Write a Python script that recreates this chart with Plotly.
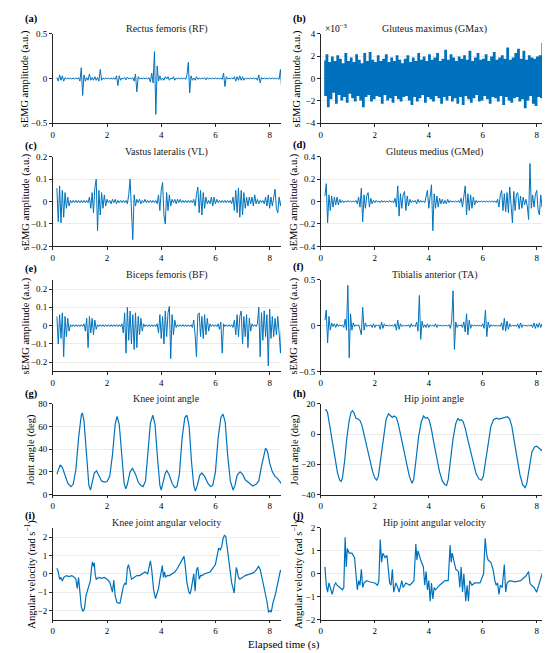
import numpy as np
import plotly.graph_objects as go

# sEMG signals, one sample every 0.05 s starting at 0.15 s (values in a.u.)
rf = [0.01, -0.03, 0.04, -0.02, 0.03, -0.03, 0.01, -0.005, 0.005, -0.005, 0.005, -0.005, 0.005, -0.005, 0.005, -0.005, 0.01, -0.03, 0.12, -0.19,
      0.04, -0.03, 0.01, -0.02, 0.05, -0.02, 0.01, -0.02, 0.02, -0.02, 0.01, -0.03, 0.10, -0.02, 0.005, -0.005, 0.005, -0.005, 0.005, -0.005,
      0.005, -0.005, 0.005, -0.01, 0.03, -0.08, 0.03, -0.02, 0.005, -0.005, 0.01, -0.015, 0.015, -0.005, 0.005, -0.005, 0.01, -0.03, 0.05, -0.15,
      0.02, -0.005, 0.005, -0.005, 0.005, -0.005, 0.005, -0.005, 0.01, -0.04, 0.06, -0.05, 0.30, -0.40, 0.14, -0.03, 0.03, -0.02, 0.005, -0.02,
      0.02, -0.005, 0.02, -0.02, 0.005, -0.005, 0.02, -0.02, 0.005, -0.005, 0.005, -0.005, 0.005, -0.005, 0.005, -0.01, 0.04, 0.18, -0.16, 0.03,
      -0.02, 0.005, -0.02, 0.02, -0.01, 0.005, -0.005, 0.005, -0.005, 0.01, -0.015, 0.01, -0.005, 0.005, -0.005, 0.005, -0.005, 0.005, -0.005, 0.005,
      -0.005, 0.005, -0.01, 0.06, -0.09, 0.02, -0.005, 0.005, -0.005, 0.005, -0.005, 0.02, -0.03, 0.02, -0.02, 0.03, -0.02, 0.02, -0.02, 0.005,
      -0.005, 0.005, -0.005, 0.005, -0.005, 0.005, -0.005, 0.005, -0.02, 0.04, -0.05, 0.01, -0.005, 0.005, -0.005, 0.005, -0.005, 0.005, -0.005, 0.005,
      -0.005, 0.005, -0.005, 0.005, -0.01, 0.10, -0.15]

# gluteus maximus, in units of 1e-3 a.u.
gmax = [1.6, -1.5, 2.1, -2.5, 1.4, -1.8, 1.9, -1.2, 1.5, -2.2, 2.0, -1.4, 1.7, -1.9, 1.3, -1.6, 2.2, -2.1, 1.5, -1.3,
        1.8, -1.7, 1.4, -2.0, 2.1, -1.5, 1.6, -1.9, 1.3, -2.5, 2.2, -1.6, 1.5, -1.4, 2.3, -2.0, 1.6, -1.8, 1.4, -1.5,
        2.0, -1.6, 1.5, -2.2, 1.7, -1.4, 2.1, -1.9, 1.4, -1.7, 1.8, -2.1, 1.5, -1.5, 2.0, -1.8, 1.6, -2.0, 1.3, -1.6,
        1.7, -1.5, 2.0, -1.9, 1.4, -2.3, 1.8, -1.6, 1.5, -2.0, 2.2, -1.7, 1.6, -1.4, 1.9, -2.1, 1.5, -1.6, 2.1, -1.8,
        1.6, -2.0, 1.8, -1.5, 2.2, -1.7, 1.5, -2.2, 1.7, -1.6, 2.5, -1.9, 1.6, -1.5, 2.1, -2.0, 1.8, -1.7, 1.5, -2.2,
        1.9, -1.6, 1.7, -2.3, 2.0, -1.5, 1.6, -1.8, 2.4, -2.1, 1.5, -1.7, 1.8, -1.4, 2.2, -2.0, 1.6, -1.9, 1.7, -1.5,
        2.1, -1.8, 1.5, -2.2, 1.9, -1.6, 2.3, -1.7, 1.6, -2.0, 1.8, -1.5, 2.0, -2.3, 1.7, -1.6, 2.7, -1.9, 1.6, -2.1,
        1.8, -1.7, 2.2, -1.6, 2.6, -2.0, 1.7, -1.8, 2.4, -2.6, 1.6, -1.9, 2.0, -1.5, 1.8, -2.2, 1.7, -2.4, 1.9, -1.6,
        2.0, -1.7, 3.1, -2.0, 1.6, -1.8, 1.4]

vl = [0.06, -0.09, 0.07, -0.095, 0.05, -0.07, 0.04, -0.03, 0.02, -0.02, 0.005, -0.005, 0.005, -0.005, 0.005, -0.005, 0.005, -0.005, 0.005, -0.005,
      0.005, -0.005, 0.005, -0.005, 0.02, -0.03, 0.04, -0.05, 0.06, 0.10, -0.13, 0.05, -0.06, 0.04, -0.03, 0.03, -0.02, 0.01, -0.005, 0.005,
      -0.01, 0.01, -0.005, 0.01, -0.01, 0.005, -0.005, 0.005, -0.005, 0.005, -0.005, 0.005, -0.01, 0.03, 0.10, -0.07, -0.17, 0.03, -0.02, 0.01,
      -0.005, 0.01, -0.01, 0.005, -0.005, 0.01, -0.005, 0.005, -0.005, 0.005, -0.005, 0.005, -0.005, 0.005, -0.01, 0.03, -0.04, 0.05, 0.085, -0.06,
      -0.10, 0.04, -0.04, 0.03, -0.02, 0.01, -0.005, 0.01, -0.01, 0.01, -0.005, 0.01, -0.005, 0.005, -0.005, 0.005, -0.005, 0.005, -0.005, 0.005,
      -0.005, 0.01, -0.02, 0.03, 0.065, -0.05, 0.05, -0.06, 0.04, -0.03, 0.02, -0.01, 0.005, -0.01, 0.02, -0.02, 0.02, -0.01, 0.01, -0.005,
      0.005, -0.005, 0.005, -0.005, 0.005, -0.005, 0.005, -0.005, 0.005, -0.01, 0.02, -0.04, 0.05, -0.05, 0.06, -0.07, 0.05, -0.06, 0.04, -0.03,
      0.02, -0.02, 0.02, -0.01, 0.02, -0.02, 0.03, -0.01, 0.01, -0.01, 0.005, -0.005, 0.005, -0.01, 0.02, -0.02, 0.03, -0.03, 0.02, -0.02,
      0.03, 0.055, -0.03, -0.05, 0.02, -0.02, 0.02]

gmed = [0.05, 0.16, -0.19, 0.06, -0.08, 0.05, -0.05, 0.04, -0.03, 0.04, -0.03, 0.02, -0.01, 0.01, -0.01, 0.005, -0.005, 0.01, -0.005, 0.005,
        -0.005, 0.005, -0.005, 0.01, -0.02, 0.04, -0.05, 0.12, -0.18, 0.06, -0.06, 0.05, 0.08, -0.05, 0.03, -0.02, 0.01, -0.01, 0.01, -0.005,
        0.005, -0.01, 0.01, -0.005, 0.005, -0.005, 0.005, -0.005, 0.01, -0.005, 0.005, -0.01, 0.03, -0.05, 0.14, -0.13, 0.07, -0.06, 0.06, 0.09,
        -0.08, 0.05, -0.04, 0.02, -0.01, 0.01, -0.005, 0.01, -0.02, 0.02, -0.01, 0.01, -0.005, 0.005, -0.01, 0.04, 0.10, -0.06, 0.06, 0.15,
        -0.26, 0.07, -0.06, 0.05, -0.05, 0.03, -0.02, 0.02, -0.02, 0.01, -0.02, 0.02, -0.01, 0.01, -0.005, 0.005, -0.005, 0.005, -0.005, 0.01,
        -0.01, 0.03, -0.05, 0.06, 0.14, -0.12, 0.07, -0.08, 0.06, -0.06, 0.04, -0.03, 0.01, -0.01, 0.005, -0.005, 0.005, -0.005, 0.005, -0.005,
        0.005, -0.005, 0.005, -0.005, 0.005, -0.005, 0.005, -0.01, 0.02, -0.05, 0.06, 0.10, -0.08, 0.07, -0.09, 0.08, -0.10, 0.13, -0.08, -0.19,
        0.09, -0.08, 0.07, 0.08, -0.07, 0.05, -0.06, 0.04, -0.03, 0.02, -0.04, -0.16, 0.34, -0.06, 0.06, -0.05, 0.06, 0.10, -0.07, -0.12,
        0.06, -0.05, 0.05, -0.06, 0.05, -0.04, 0.03]

bf = [0.05, -0.10, 0.06, -0.07, 0.07, -0.17, 0.05, -0.06, 0.04, -0.03, 0.005, -0.005, 0.005, -0.005, 0.005, -0.005, 0.005, -0.005, 0.005, -0.005,
      0.01, -0.03, 0.04, -0.12, 0.05, -0.04, 0.04, -0.05, 0.03, -0.02, 0.005, -0.005, 0.005, -0.005, 0.005, -0.005, 0.005, -0.005, 0.005, -0.005,
      0.005, -0.005, 0.005, -0.005, 0.005, -0.005, 0.005, -0.005, 0.01, -0.04, 0.07, -0.15, 0.10, -0.08, 0.08, -0.10, 0.06, -0.13, 0.07, -0.12,
      0.05, -0.05, 0.04, -0.03, 0.01, -0.005, 0.005, -0.005, 0.005, -0.005, 0.005, -0.005, 0.005, -0.005, 0.01, -0.04, 0.06, -0.07, 0.05, -0.10,
      0.08, -0.06, 0.07, 0.105, -0.18, 0.06, -0.05, 0.03, -0.01, 0.005, -0.005, 0.005, -0.005, 0.005, -0.005, 0.005, -0.005, 0.005, -0.005, 0.005,
      -0.01, 0.03, -0.05, -0.17, 0.06, 0.07, -0.06, 0.05, -0.07, 0.06, -0.05, 0.04, -0.03, 0.01, -0.005, 0.005, -0.005, 0.005, -0.005, 0.01,
      -0.02, 0.02, -0.15, 0.01, -0.005, 0.005, -0.005, 0.005, -0.005, 0.005, -0.01, 0.03, -0.05, 0.06, -0.06, 0.05, 0.08, -0.10, 0.05, -0.06,
      0.06, -0.12, 0.04, -0.03, 0.01, -0.005, 0.005, -0.005, 0.01, 0.10, -0.17, 0.07, -0.08, 0.08, -0.06, 0.06, -0.22, 0.09, -0.07, 0.05,
      -0.06, 0.04, -0.05, 0.05, -0.04, -0.15, 0.03]

ta = [0.06, 0.17, -0.19, 0.10, -0.05, 0.03, -0.01, 0.02, -0.02, 0.02, -0.01, 0.01, -0.005, 0.005, -0.02, 0.07, -0.05, 0.44, -0.35, 0.13,
      -0.05, 0.03, -0.01, 0.01, -0.005, 0.01, -0.04, -0.10, 0.20, -0.05, 0.03, -0.01, 0.005, -0.005, 0.01, -0.02, 0.02, -0.02, 0.01, -0.005,
      0.01, -0.04, 0.04, -0.03, 0.02, -0.005, 0.005, -0.005, 0.005, -0.005, 0.005, -0.01, 0.02, -0.05, 0.06, -0.04, 0.02, -0.01, 0.005, -0.005,
      0.005, -0.005, 0.01, -0.02, 0.02, -0.01, 0.005, -0.01, 0.04, -0.06, 0.33, -0.15, 0.05, -0.02, 0.01, -0.02, 0.02, -0.02, 0.01, -0.005,
      0.005, -0.01, 0.02, -0.02, 0.01, -0.005, 0.005, -0.005, 0.005, -0.005, 0.005, -0.005, 0.01, -0.03, 0.05, 0.38, -0.26, 0.04, -0.02, 0.01,
      -0.005, 0.01, -0.02, 0.04, -0.07, 0.13, -0.10, 0.06, -0.03, 0.01, -0.005, 0.005, -0.005, 0.005, -0.005, 0.005, -0.01, 0.02, -0.03, 0.17,
      -0.12, 0.04, -0.02, 0.01, -0.005, 0.005, -0.005, 0.005, -0.005, 0.005, -0.01, 0.03, -0.05, 0.08, -0.06, 0.05, -0.04, 0.02, -0.01, 0.005,
      -0.005, 0.005, -0.01, 0.02, -0.03, 0.03, -0.02, 0.01, -0.005, 0.005, -0.005, 0.005, -0.005, 0.01, -0.02, 0.03, -0.03, 0.02, -0.02, 0.03,
      -0.02, 0.02, -0.03, 0.03, -0.02, 0.02, -0.01]

# joint kinematics
knee_t = [0.15, 0.2, 0.27, 0.35, 0.45, 0.55, 0.67, 0.75, 0.85, 0.95, 1.05, 1.09, 1.15, 1.25, 1.33, 1.39, 1.45, 1.53, 1.61, 1.7,
          1.8, 1.9, 2.0, 2.1, 2.2, 2.3, 2.37, 2.45, 2.55, 2.63, 2.69, 2.75, 2.85, 2.94, 3.05, 3.15, 3.25, 3.33, 3.42, 3.5,
          3.6, 3.69, 3.77, 3.87, 3.95, 4.0, 4.07, 4.15, 4.21, 4.3, 4.4, 4.5, 4.58, 4.67, 4.77, 4.87, 4.95, 5.03, 5.12, 5.2,
          5.26, 5.33, 5.42, 5.5, 5.6, 5.72, 5.82, 5.9, 6.0, 6.1, 6.2, 6.28, 6.36, 6.45, 6.55, 6.65, 6.72, 6.8, 6.91, 7.0,
          7.1, 7.2, 7.3, 7.38, 7.5, 7.6, 7.7, 7.8, 7.85, 7.92, 8.0, 8.1, 8.2, 8.3, 8.38, 8.45]
knee_angle = [18, 21, 26, 24, 16, 10, 7, 9, 22, 50, 70, 72, 65, 30, 8, 4, 10, 19, 21, 16,
              12, 11, 11.5, 16, 35, 62, 69, 62, 30, 10, 5, 9, 20, 23, 18, 11, 8, 7, 12, 35,
              63, 70, 62, 30, 8, 4, 10, 19, 21, 17, 10, 6, 7, 18, 50, 68, 70, 60, 28, 8,
              3, 8, 17, 19, 16, 10, 7, 8, 20, 50, 68, 71, 64, 35, 12, 4, 8, 17, 20, 18,
              13, 11, 9, 7.5, 9, 12, 25, 38, 41, 38, 28, 20, 16, 14, 11, 9]

hip_t = [0.15, 0.2, 0.25, 0.32, 0.42, 0.52, 0.62, 0.7, 0.75, 0.8, 0.88, 0.96, 1.05, 1.12, 1.17, 1.23, 1.3, 1.38, 1.45, 1.52,
         1.62, 1.72, 1.82, 1.92, 2.0, 2.07, 2.13, 2.22, 2.32, 2.42, 2.51, 2.58, 2.65, 2.72, 2.8, 2.88, 2.98, 3.08, 3.18, 3.28,
         3.38, 3.44, 3.52, 3.62, 3.72, 3.81, 3.88, 3.95, 4.02, 4.1, 4.2, 4.3, 4.4, 4.5, 4.6, 4.66, 4.72, 4.8, 4.9, 5.0,
         5.08, 5.14, 5.2, 5.27, 5.35, 5.45, 5.55, 5.65, 5.75, 5.85, 5.95, 6.02, 6.1, 6.2, 6.3, 6.4, 6.5, 6.6, 6.7, 6.8,
         6.92, 7.0, 7.08, 7.18, 7.28, 7.38, 7.48, 7.57, 7.63, 7.72, 7.82, 7.92, 8.0, 8.1, 8.2, 8.3, 8.42]
hip_angle = [16, 16, 14, 6, -6, -17, -26, -30.5, -31.3, -29, -18, -3, 9, 14.5, 15.5, 14, 10.5, 10, 9, 6,
             -2, -10, -18, -25, -29, -30.5, -28, -16, 0, 10, 13.5, 12.5, 11, 12, 11, 6, -3, -12, -21, -28,
             -32.5, -30, -18, -2, 8, 12, 10.5, 11, 9, 3, -7, -17, -25, -31, -33.5, -34, -30, -18, -3, 7,
             10.5, 9, 9.5, 8.5, 4, -4, -12, -20, -26, -29.5, -30.5, -28, -18, -4, 5, 9.5, 10.5, 10, 10.5, 11,
             11.5, 10, 5, -6, -17, -27, -33.5, -35.5, -33, -22, -12, -8.5, -8, -9.5, -11, -12.5, -16]

knee_vel_t = [0.15, 0.2, 0.25, 0.3, 0.35, 0.4, 0.5, 0.6, 0.7, 0.8, 0.85, 0.9, 0.95, 1.0, 1.05, 1.11, 1.17, 1.22, 1.28, 1.33,
              1.38, 1.42, 1.46, 1.5, 1.53, 1.56, 1.6, 1.7, 1.8, 1.9, 2.0, 2.1, 2.15, 2.2, 2.25, 2.3, 2.36, 2.42, 2.48, 2.53,
              2.6, 2.66, 2.7, 2.75, 2.79, 2.84, 2.9, 3.0, 3.1, 3.2, 3.3, 3.4, 3.5, 3.55, 3.6, 3.65, 3.72, 3.79, 3.85, 3.9,
              3.95, 4.0, 4.04, 4.08, 4.12, 4.16, 4.22, 4.3, 4.4, 4.5, 4.6, 4.7, 4.77, 4.84, 4.88, 4.95, 5.02, 5.06, 5.1, 5.15,
              5.2, 5.25, 5.3, 5.35, 5.4, 5.45, 5.5, 5.6, 5.7, 5.8, 5.9, 6.0, 6.05, 6.12, 6.18, 6.23, 6.28, 6.33, 6.38, 6.45,
              6.52, 6.6, 6.65, 6.69, 6.73, 6.77, 6.8, 6.85, 6.9, 7.0, 7.1, 7.2, 7.3, 7.4, 7.5, 7.59, 7.65, 7.72, 7.8, 7.85,
              7.9, 7.96, 8.02, 8.06, 8.12, 8.2, 8.27, 8.33, 8.4, 8.45]
knee_vel = [0.3, 0.1, -0.3, -0.2, -0.4, -0.2, -0.1, -0.15, -0.1, -0.2, -0.3, -0.8, -0.2, -1.0, -1.8, -2.05, -1.9, -1.2, -0.9, -0.7,
            -0.4, 0.2, 0.65, 0.4, 0.6, 0.0, -0.3, -0.2, -0.25, -0.2, -0.3, -0.45, -0.7, -1.0, -0.35, -1.2, -1.55, -1.6, -1.6, -1.2,
            -0.7, -0.5, -0.6, 0.3, 0.5, 0.2, -0.3, -0.2, -0.1, -0.1, 0.0, 0.1, 0.0, 0.4, 0.7, 0.2, -0.9, -1.35, -1.1, -0.8,
            -0.3, 0.1, 0.45, -0.2, 0.1, -0.2, -0.1, -0.1, 0.0, 0.1, 0.3, 0.6, 0.8, 0.95, 0.5, -0.5, -1.0, -1.1, -0.9, -0.3,
            0.0, -0.95, 0.2, 0.35, -0.3, -0.1, -0.1, 0.0, 0.05, 0.1, 0.3, 0.5, 0.9, 1.4, 1.3, 1.5, 1.9, 2.1, 2.05, 1.2,
            0.2, -0.5, -0.8, -1.05, -0.3, 0.35, 0.2, -0.2, -0.3, -0.2, -0.1, -0.05, 0.0, 0.05, 0.2, 0.4, 0.25, -0.2, -0.8, -1.2,
            -1.5, -2.1, -2.0, -2.1, -1.6, -1.2, -0.8, -0.3, 0.2, 0.1]

hip_vel_t = [0.15, 0.2, 0.25, 0.3, 0.35, 0.42, 0.5, 0.55, 0.6, 0.7, 0.8, 0.85, 0.88, 0.9, 0.94, 0.98, 1.05, 1.15, 1.25, 1.3,
             1.35, 1.4, 1.45, 1.5, 1.55, 1.6, 1.7, 1.8, 2.0, 2.1, 2.15, 2.2, 2.25, 2.3, 2.38, 2.45, 2.52, 2.55, 2.6, 2.65,
             2.7, 2.78, 2.85, 2.9, 3.0, 3.05, 3.15, 3.3, 3.45, 3.52, 3.56, 3.6, 3.7, 3.8, 3.85, 3.9, 3.95, 4.0, 4.05, 4.1,
             4.15, 4.2, 4.25, 4.4, 4.6, 4.72, 4.79, 4.83, 4.87, 4.95, 5.0, 5.1, 5.15, 5.2, 5.25, 5.3, 5.37, 5.42, 5.47, 5.52,
             5.6, 5.7, 5.9, 6.03, 6.09, 6.15, 6.2, 6.3, 6.38, 6.45, 6.5, 6.55, 6.6, 6.65, 6.72, 6.8, 6.85, 6.9, 7.0, 7.2,
             7.4, 7.6, 7.7, 7.75, 7.8, 7.9, 8.0, 8.1, 8.2, 8.3, 8.37, 8.42]
hip_vel = [0.3, -0.5, -0.8, -0.4, -0.6, -0.9, -0.5, -0.4, -0.5, -0.6, -0.7, -0.6, 0.3, 1.6, 0.3, 1.1, 0.9, 0.9, 0.7, 0.1,
           -0.7, -0.3, -0.5, 0.2, -0.6, -0.4, -0.3, -0.35, -0.4, -0.5, -0.3, 1.5, 0.5, 0.9, 0.7, 0.8, 0.0, -0.4, -0.5, 0.2,
           -0.8, -0.4, -0.6, -0.8, -0.3, -0.6, -0.4, -0.5, -0.3, 1.3, 0.6, 1.0, 0.6, 0.3, -0.5, 0.1, -0.7, -0.3, -1.2, -0.4,
           -1.1, -0.6, -0.7, -0.5, -0.3, -0.3, 1.25, 0.5, 0.9, 0.4, 0.2, 0.1, -0.6, 0.3, -0.8, 0.0, -1.2, -0.5, -1.2, -0.3,
           -0.5, -0.4, -0.4, 0.0, 1.55, 0.8, 0.6, 0.5, 0.2, -0.3, -0.5, -0.4, -0.9, -0.5, -0.6, 0.4, -0.8, -0.4, -0.3, -0.35,
           -0.3, -0.1, 0.1, -0.4, -0.5, -0.6, -0.8, -0.4, 0.0, 0.2, 0.25, -0.1]

emg_t = lambda v: np.round(0.15 + 0.05 * np.arange(len(v)), 2)

SEMG = "sEMG amplitude (a.u.)"
ANGV = "Angular velocity (rad s<sup>−1</sup>)"
panels = [
    ("(a)", "Rectus femoris (RF)", emg_t(rf), rf, [-0.5, 0.5], [-0.5, 0, 0.5], SEMG),
    ("(b)", "Gluteus maximus (GMax)", emg_t(gmax), gmax, [-4, 4], [-4, -2, 0, 2, 4], SEMG),
    ("(c)", "Vastus lateralis (VL)", emg_t(vl), vl, [-0.2, 0.2], [-0.2, -0.1, 0, 0.1, 0.2], SEMG),
    ("(d)", "Gluteus medius (GMed)", emg_t(gmed), gmed, [-0.4, 0.4], [-0.4, -0.2, 0, 0.2, 0.4], SEMG),
    ("(e)", "Biceps femoris (BF)", emg_t(bf), bf, [-0.25, 0.25], [-0.2, -0.1, 0, 0.1, 0.2], SEMG),
    ("(f)", "Tibialis anterior (TA)", emg_t(ta), ta, [-0.5, 0.5], [-0.5, 0, 0.5], SEMG),
    ("(g)", "Knee joint angle", knee_t, knee_angle, [0, 80], [0, 20, 40, 60, 80], "Joint angle (deg)"),
    ("(h)", "Hip joint angle", hip_t, hip_angle, [-40, 20], [-40, -20, 0, 20], "Joint angle (deg)"),
    ("(i)", "Knee joint angular velocity", knee_vel_t, knee_vel, [-2.5, 2.5], [-2, -1, 0, 1, 2], ANGV),
    ("(j)", "Hip joint angular velocity", hip_vel_t, hip_vel, [-2, 2], [-2, -1, 0, 1, 2], ANGV),
]

W, H = 550, 653
col_x = [(43, 272), (312, 540)]
row_y = [(21, 112), (146, 237), (271, 364), (397, 489), (523, 616)]
ylab_x = [16, 289, 16, 285, 16, 285, 21, 286, 20, 288]
tag_y = [6, 6, 135, 134, 260, 258, 387, 387, 511, 511]
FONT = "Liberation Serif"
BLUE = "#0072BD"
AX = "#262626"

fig = go.Figure()
layout = {}
annotations = []
for k, (tag, title, x, y, yr, yt, ylab) in enumerate(panels):
    r, c = divmod(k, 2)
    x0, x1 = col_x[c]
    y0, y1 = row_y[r]
    n = "" if k == 0 else str(k + 1)
    if k == 1:
        # continuous noise: vertical steps so the band looks filled like the original
        line = dict(color=BLUE, width=1.45, shape="vh")
    elif k < 6:
        line = dict(color=BLUE, width=1.0)
    else:
        line = dict(color=BLUE, width=1.2)
    fig.add_trace(go.Scatter(x=x, y=y, mode="lines", line=line,
                             xaxis="x" + n, yaxis="y" + n, showlegend=False, hoverinfo="skip"))
    layout["xaxis" + n] = dict(domain=[x0 / W, x1 / W], anchor="y" + n, range=[0, 8.42],
                               tickvals=[0, 2, 4, 6, 8], showline=True, linecolor=AX, linewidth=0.8,
                               ticks="outside", ticklen=3, tickcolor=AX, showgrid=False, zeroline=False,
                               tickfont=dict(size=9))
    layout["yaxis" + n] = dict(domain=[1 - y1 / H, 1 - y0 / H], anchor="x" + n, range=yr, tickvals=yt,
                               showline=True, linecolor=AX, linewidth=0.8, ticks="outside", ticklen=3,
                               tickcolor=AX, showgrid=True, gridcolor="#ebebeb", gridwidth=0.8,
                               zeroline=False, tickfont=dict(size=9))
    annotations.append(dict(text=ylab, x=ylab_x[k] / W, y=1 - (y0 + y1) / 2 / H, xref="paper", yref="paper",
                            xanchor="center", yanchor="middle", textangle=-90, showarrow=False,
                            font=dict(size=10.5)))
    annotations.append(dict(text=title, x=(x0 + x1) / 2 / W, y=1 - y0 / H, xref="paper", yref="paper",
                            xanchor="center", yanchor="middle", yshift=5, showarrow=False,
                            font=dict(size=10, color="#1a1a1a")))
    annotations.append(dict(text="<b>" + tag + "</b>", x=(13 if c == 0 else 282) / W, y=1 - tag_y[k] / H,
                            xref="paper", yref="paper", xanchor="left", yanchor="middle",
                            showarrow=False, font=dict(size=10.5)))
    if tag == "(b)":
        # axis exponent like MATLAB
        annotations.append(dict(text="×10<sup>−3</sup>", x=314 / W, y=1 - 15 / H, xref="paper", yref="paper",
                                xanchor="left", yanchor="middle", showarrow=False, font=dict(size=9.5)))

annotations.append(dict(text="Elapsed time (s)", x=0.5, y=1 - 641 / H, xref="paper", yref="paper",
                        xanchor="center", yanchor="middle", showarrow=False, font=dict(size=11)))

fig.update_layout(width=W, height=H, margin=dict(l=0, r=0, t=0, b=0), paper_bgcolor="white",
                  plot_bgcolor="white", font=dict(family=FONT, color="black"),
                  annotations=annotations, **layout)
fig.write_html("out.html")
